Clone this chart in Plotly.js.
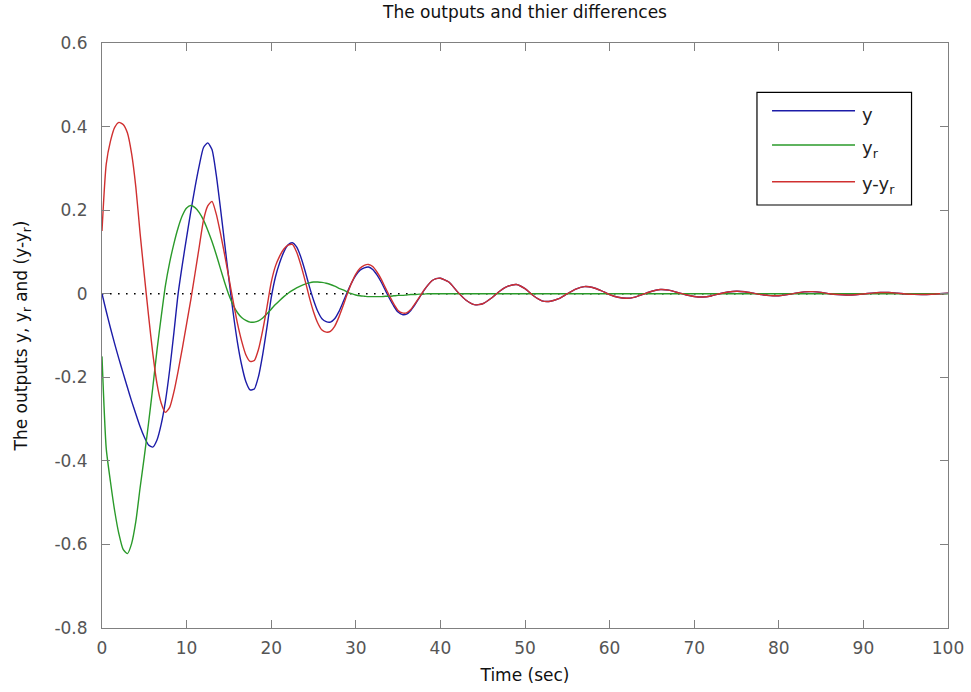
<!DOCTYPE html>
<html>
<head>
<meta charset="utf-8">
<script src="https://cdn.plot.ly/plotly-3.0.1.min.js"></script>
<style>
  html, body { margin: 0; padding: 0; background: #ffffff; }
  #chart { width: 971px; height: 692px; }
</style>
</head>
<body>
<div id="chart"></div>
<script>
// Time axis (sec)
const timeSec = [
  0,0.5,1,1.5,2,2.5,3,3.5,4,4.5,5,5.5,6,6.5,7,7.5,8,8.5,9,9.5,
  10,10.5,11,11.5,12,12.5,13,13.5,14,14.5,15,15.5,16,16.5,17,17.5,18,18.5,19,19.5,
  20,20.5,21,21.5,22,22.5,23,23.5,24,24.5,25,25.5,26,26.5,27,27.5,28,28.5,29,29.5,
  30,30.5,31,31.5,32,32.5,33,33.5,34,34.5,35,35.5,36,36.5,37,37.5,38,38.5,39,39.5,
  40,41,42,43,44,45,46,47,48,49,50,51,52,53,54,55,56,57,58,59,
  60,61,62,63,64,65,66,67,68,69,70,71,72,73,74,75,76,77,78,79,
  80,81,82,83,84,85,86,87,88,89,90,91,92,93,94,95,96,97,98,99,100
];

// Output y (blue)
const outY = [
  0,-0.042,-0.082,-0.12,-0.156,-0.19,-0.224,-0.257,-0.288,-0.318,-0.343,-0.362,-0.367,-0.35,-0.312,-0.257,-0.182,-0.093,0,0.07,
  0.135,0.197,0.255,0.307,0.35,0.361,0.345,0.285,0.205,0.12,0.035,-0.045,-0.115,-0.17,-0.21,-0.23,-0.228,-0.198,-0.145,-0.08,
  -0.01,0.04,0.074,0.1,0.117,0.122,0.112,0.088,0.055,0.018,-0.015,-0.042,-0.06,-0.067,-0.068,-0.06,-0.043,-0.02,0.004,0.026,
  0.044,0.056,0.062,0.064,0.058,0.045,0.028,0.008,-0.012,-0.03,-0.044,-0.05,-0.049,-0.04,-0.026,-0.01,0.006,0.02,0.031,0.036,
  0.037,0.028,0.005,-0.015,-0.026,-0.024,-0.011,0.006,0.018,0.022,0.012,-0.005,-0.017,-0.018,-0.012,0,0.011,0.017,0.015,0.0075,
  -0.002,-0.0085,-0.011,-0.008,-0.001,0.006,0.01,0.0085,0.003,-0.0026,-0.0066,-0.008,-0.0054,0,0.004,0.006,0.0048,0.0013,-0.0023,-0.0046,
  -0.0048,-0.0023,0.0015,0.0043,0.0049,0.0032,0,-0.002,-0.003,-0.0025,-0.0007,0.0014,0.0028,0.0029,0.0013,-0.0006,-0.0017,-0.002,-0.0014,0,0.001
];

// Reference output y_r (green)
const outYr = [
  -0.15,-0.37,-0.45,-0.52,-0.575,-0.612,-0.622,-0.598,-0.545,-0.465,-0.39,-0.31,-0.225,-0.135,-0.055,0.02,0.075,0.12,0.158,0.187,
  0.205,0.211,0.206,0.194,0.176,0.152,0.125,0.094,0.06,0.027,-0.003,-0.027,-0.045,-0.057,-0.064,-0.068,-0.068,-0.065,-0.058,-0.048,
  -0.037,-0.026,-0.016,-0.007,0.001,0.008,0.014,0.019,0.023,0.026,0.028,0.028,0.027,0.025,0.022,0.018,0.013,0.009,0.004,0,
  -0.003,-0.005,-0.006,-0.007,-0.007,-0.007,-0.007,-0.006,-0.006,-0.005,-0.004,-0.004,-0.003,-0.002,-0.002,-0.001,-0.001,0,0,0,
  0,0,0,0,0,0,0,0,0,0,0,0,0,0,0,0,0,0,0,0,
  0,0,0,0,0,0,0,0,0,0,0,0,0,0,0,0,0,0,0,0,
  0,0,0,0,0,0,0,0,0,0,0,0,0,0,0,0,0,0,0,0,0
];

// Difference y - y_r (red)
const outDiff = [
  0.15,0.31,0.365,0.398,0.41,0.405,0.385,0.335,0.255,0.145,0.045,-0.052,-0.142,-0.215,-0.262,-0.284,-0.272,-0.235,-0.185,-0.13,
  -0.072,-0.014,0.049,0.113,0.176,0.21,0.221,0.191,0.145,0.093,0.038,-0.018,-0.07,-0.113,-0.146,-0.162,-0.16,-0.133,-0.087,-0.032,
  0.027,0.066,0.09,0.107,0.116,0.118,0.1,0.069,0.032,-0.008,-0.043,-0.07,-0.087,-0.092,-0.09,-0.078,-0.056,-0.029,0,0.026,
  0.047,0.061,0.068,0.07,0.065,0.052,0.035,0.014,-0.006,-0.025,-0.04,-0.046,-0.046,-0.038,-0.024,-0.009,0.007,0.02,0.031,0.036,
  0.037,0.028,0.005,-0.015,-0.026,-0.024,-0.011,0.006,0.018,0.022,0.012,-0.005,-0.017,-0.018,-0.012,0,0.011,0.017,0.015,0.0075,
  -0.002,-0.0085,-0.011,-0.008,-0.001,0.006,0.01,0.0085,0.003,-0.0026,-0.0066,-0.008,-0.0054,0,0.004,0.006,0.0048,0.0013,-0.0023,-0.0046,
  -0.0048,-0.0023,0.0015,0.0043,0.0049,0.0032,0,-0.002,-0.003,-0.0025,-0.0007,0.0014,0.0028,0.0029,0.0013,-0.0006,-0.0017,-0.002,-0.0014,0,0.001
];

// Zero reference line
const zeroX = [0, 100];
const zeroY = [0, 0];

const seriesNames = ['y', 'y<sub>r</sub>', 'y-y<sub>r</sub>'];
const seriesColors = ['#1c1ca8', '#2a9a2a', '#d03030'];
const xTicks = [0,10,20,30,40,50,60,70,80,90,100];
const yTicks = [-0.8,-0.6,-0.4,-0.2,0,0.2,0.4,0.6];
const yTickText = ['-0.8','-0.6','-0.4','-0.2','0','0.2','0.4','0.6'];

const FONT = 'DejaVu Sans, Arial, sans-serif';
const LINE = {width: 1.4, shape: 'spline', smoothing: 0.6};

const traces = [
  {x: zeroX, y: zeroY, mode: 'lines', name: 'zero', showlegend: false, hoverinfo: 'skip',
   line: {color: '#000000', width: 1.6, dash: '1.6px,6.4px'}},
  {x: timeSec, y: outY, mode: 'lines', name: seriesNames[0], line: Object.assign({color: seriesColors[0]}, LINE)},
  {x: timeSec, y: outYr, mode: 'lines', name: seriesNames[1], line: Object.assign({color: seriesColors[1]}, LINE)},
  {x: timeSec, y: outDiff, mode: 'lines', name: seriesNames[2], line: Object.assign({color: seriesColors[2]}, LINE)}
];

// legend box geometry (paper coords)
const lgX0 = 0.7742, lgX1 = 0.9569, lgY0 = 0.7231, lgY1 = 0.9157;
const lineX0 = 0.7920, lineX1 = 0.8901, textX = 0.8960;
const rowY = [0.8843, 0.8256, 0.7629];

const shapes = [
  {type: 'rect', xref: 'paper', yref: 'paper', x0: lgX0, x1: lgX1, y0: lgY0, y1: lgY1,
   line: {color: '#000000', width: 1.2}, fillcolor: '#ffffff', layer: 'above'}
];
const annotations = [];
for (let i = 0; i < 3; i++) {
  shapes.push({type: 'line', xref: 'paper', yref: 'paper', x0: lineX0, x1: lineX1, y0: rowY[i], y1: rowY[i],
    line: {color: seriesColors[i], width: 1.4}, layer: 'above'});
  annotations.push({xref: 'paper', yref: 'paper', x: textX, y: rowY[i] - 0.006, xanchor: 'left', yanchor: 'middle',
    text: seriesNames[i], showarrow: false, font: {family: FONT, size: 18, color: '#222222'}});
}

const layout = {
  width: 971, height: 692,
  margin: {l: 102, r: 23, t: 43, b: 64},
  paper_bgcolor: '#ffffff', plot_bgcolor: '#ffffff',
  showlegend: false,
  title: {text: 'The outputs and thier differences', font: {family: FONT, size: 17, color: '#111111'},
          x: 0.5, xref: 'paper', xanchor: 'center', y: 0.9827, yref: 'container', yanchor: 'middle'},
  xaxis: {
    range: [0, 100], tickvals: xTicks, ticktext: xTicks.map(String),
    ticks: 'inside', ticklen: 8, tickwidth: 1, tickcolor: '#808080',
    showline: true, linecolor: '#808080', linewidth: 1, mirror: 'ticks',
    showgrid: false, zeroline: false, ticklabelstandoff: 5,
    tickfont: {family: FONT, size: 17, color: '#555555'},
    title: {text: 'Time (sec)', font: {family: FONT, size: 17, color: '#111111'}, standoff: 11},
    automargin: false
  },
  yaxis: {
    range: [-0.8, 0.6], tickvals: yTicks, ticktext: yTickText,
    ticks: 'inside', ticklen: 8, tickwidth: 1, tickcolor: '#808080',
    showline: true, linecolor: '#808080', linewidth: 1, mirror: 'ticks',
    showgrid: false, zeroline: false, ticklabelstandoff: 10,
    tickfont: {family: FONT, size: 17, color: '#555555'},
    title: {text: 'The outputs y, y<sub>r</sub> and (y-y<sub>r</sub>)', font: {family: FONT, size: 17, color: '#111111'}, standoff: 22},
    automargin: false
  },
  shapes: shapes,
  annotations: annotations
};

Plotly.newPlot('chart', traces, layout, {displayModeBar: false, staticPlot: true});
</script>
</body>
</html>
